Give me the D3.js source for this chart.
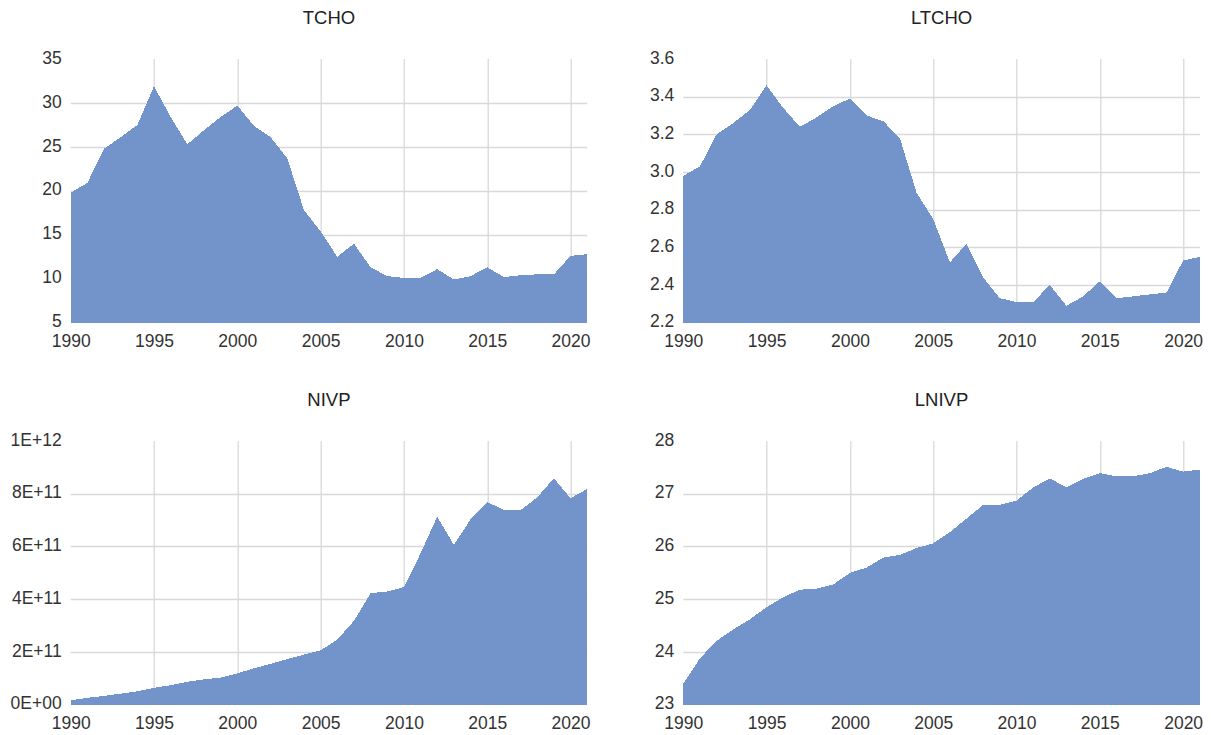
<!DOCTYPE html>
<html>
<head>
<meta charset="utf-8">
<script src="https://cdn.jsdelivr.net/npm/d3@7"></script>
<style>
  html, body { margin: 0; padding: 0; background: #fff; }
  svg { display: block; }
</style>
</head>
<body>
<svg id="chart" width="1211" height="735"></svg>
<script>
// Annual observations, 1990-2021
const years = d3.range(1990, 2022);

const tcho = [19.8, 20.9, 24.8, 26.1, 27.5, 31.9, 28.4, 25.3, 26.9, 28.4,
  29.7, 27.4, 26.1, 23.7, 17.8, 15.4, 12.5, 14.0, 11.3, 10.3,
  10.1, 10.1, 11.1, 9.9, 10.3, 11.3, 10.2, 10.4, 10.5, 10.5,
  12.6, 12.8];

const ltcho = [2.98, 3.03, 3.20, 3.26, 3.33, 3.46, 3.34, 3.24, 3.29, 3.35,
  3.39, 3.30, 3.27, 3.18, 2.89, 2.75, 2.52, 2.62, 2.44, 2.33,
  2.31, 2.31, 2.40, 2.29, 2.34, 2.42, 2.33, 2.34, 2.35, 2.36,
  2.53, 2.55];

const nivp = [1.7e10, 2.6e10, 3.3e10, 4.2e10, 5.1e10, 6.4e10, 7.4e10, 8.7e10, 9.6e10, 1.03e11,
  1.19e11, 1.38e11, 1.55e11, 1.73e11, 1.90e11, 2.06e11, 2.47e11, 3.18e11, 4.23e11, 4.29e11,
  4.46e11, 5.74e11, 7.13e11, 6.06e11, 7.03e11, 7.69e11, 7.38e11, 7.38e11, 7.86e11, 8.59e11,
  7.83e11, 8.18e11];

const lnivp = [23.40, 23.88, 24.21, 24.43, 24.62, 24.85, 25.04, 25.18, 25.20, 25.28,
  25.50, 25.60, 25.79, 25.84, 25.97, 26.06, 26.27, 26.53, 26.79, 26.79,
  26.87, 27.12, 27.29, 27.12, 27.28, 27.39, 27.33, 27.33, 27.39, 27.51,
  27.42, 27.46];

const xTicks = [1990, 1995, 2000, 2005, 2010, 2015, 2020];

const tchoTicks = [5, 10, 15, 20, 25, 30, 35];
const ltchoTicks = [2.2, 2.4, 2.6, 2.8, 3.0, 3.2, 3.4, 3.6];
const nivpTicks = [0, 2e11, 4e11, 6e11, 8e11, 1e12];
const lnivpTicks = [23, 24, 25, 26, 27, 28];

// Scientific notation with a two-digit exponent, e.g. 2E+11, 0E+00
function sciFormat(v) {
  if (v === 0) return "0E+00";
  const exp = Math.floor(Math.log10(Math.abs(v)));
  const mant = Math.round(v / Math.pow(10, exp));
  const sign = exp < 0 ? "-" : "+";
  return mant + "E" + sign + String(Math.abs(exp)).padStart(2, "0");
}

const panels = [
  { title: "TCHO", values: tcho, ticks: tchoTicks, fmt: d3.format("d"), left: 70.7, top: 59 },
  { title: "LTCHO", values: ltcho, ticks: ltchoTicks, fmt: d3.format(".1f"), left: 683.3, top: 59 },
  { title: "NIVP", values: nivp, ticks: nivpTicks, fmt: sciFormat, left: 70.7, top: 441 },
  { title: "LNIVP", values: lnivp, ticks: lnivpTicks, fmt: d3.format("d"), left: 683.3, top: 441 }
];

const plotW = 516.5;
const plotH = 263.7;
const fillColor = "#7393CB";
const gridColor = "#D9D9D9";
const fontFamily = "'Liberation Sans', Arial, sans-serif";
const tickFont = 17.5;

const svg = d3.select("#chart");

panels.forEach(p => {
  const g = svg.append("g").attr("transform", `translate(${p.left},${p.top})`);

  const x = d3.scaleLinear().domain([1990, 2021]).range([0, plotW]);
  const y = d3.scaleLinear()
    .domain([p.ticks[0], p.ticks[p.ticks.length - 1]])
    .range([plotH, 0]);

  // horizontal gridlines (none along the top edge)
  g.append("g")
    .selectAll("line")
    .data(p.ticks.slice(1, -1))
    .join("line")
    .attr("x1", 0).attr("x2", plotW)
    .attr("y1", d => Math.round(y(d)) + 0.5)
    .attr("y2", d => Math.round(y(d)) + 0.5)
    .attr("stroke", gridColor)
    .attr("stroke-width", 1.3);

  // vertical gridlines
  g.append("g")
    .selectAll("line")
    .data(xTicks.slice(1))
    .join("line")
    .attr("x1", d => Math.round(x(d)) + 0.5)
    .attr("x2", d => Math.round(x(d)) + 0.5)
    .attr("y1", 0).attr("y2", plotH)
    .attr("stroke", gridColor)
    .attr("stroke-width", 1.3);

  // filled area
  const area = d3.area()
    .x((d, i) => x(years[i]))
    .y0(y(p.ticks[0]))
    .y1(d => y(d));

  g.append("path")
    .datum(p.values)
    .attr("d", area)
    .attr("fill", fillColor)
    .attr("shape-rendering", "crispEdges");

  // y-axis labels
  const yAxis = d3.axisLeft(y)
    .tickValues(p.ticks)
    .tickFormat(p.fmt)
    .tickSize(0)
    .tickPadding(9);
  const ya = g.append("g").call(yAxis);
  ya.select(".domain").remove();
  ya.selectAll("text")
    .attr("y", -1.5)
    .attr("font-family", fontFamily)
    .attr("font-size", tickFont)
    .attr("fill", "#333");

  // x-axis labels
  const xAxis = d3.axisBottom(x)
    .tickValues(xTicks)
    .tickFormat(d3.format("d"))
    .tickSize(0)
    .tickPadding(12);
  const xa = g.append("g").attr("transform", `translate(0,${plotH})`).call(xAxis);
  xa.select(".domain").remove();
  xa.selectAll("text")
    .attr("font-family", fontFamily)
    .attr("font-size", tickFont)
    .attr("fill", "#333");

  // panel title
  svg.append("text")
    .attr("x", p.left + plotW / 2)
    .attr("y", p.top - 42)
    .attr("text-anchor", "middle")
    .attr("dominant-baseline", "central")
    .attr("font-family", fontFamily)
    .attr("font-size", 18.5)
    .attr("fill", "#222")
    .text(p.title);
});
</script>
</body>
</html>
